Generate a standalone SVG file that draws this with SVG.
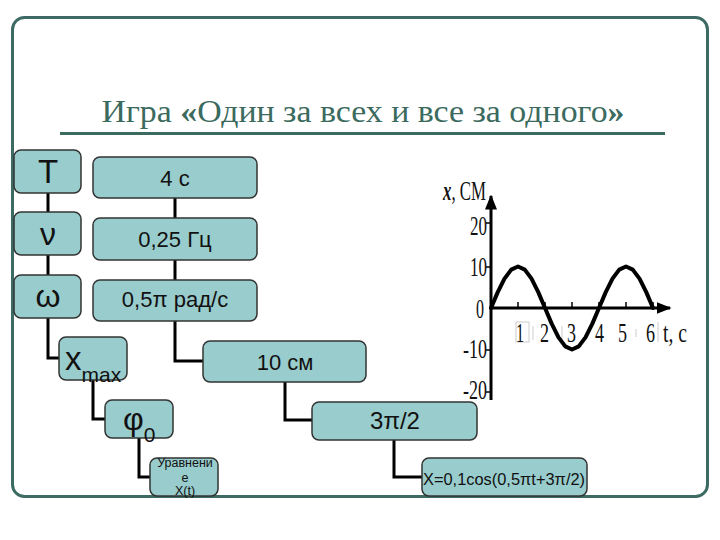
<svg xmlns="http://www.w3.org/2000/svg" width="720" height="540" viewBox="0 0 720 540">
<style>
.node{fill:#99cccc;stroke:#333333;stroke-width:1.5}
.lbl{font-family:"Liberation Sans",Arial,sans-serif;fill:#111;text-anchor:middle}
.con{fill:none;stroke:#000;stroke-width:3}
.ax{font-family:"Liberation Serif","Times New Roman",serif;font-size:27px;fill:#111}
</style>
<defs>
<marker id="arr" viewBox="0 0 10 10" refX="9" refY="5" markerWidth="5" markerHeight="5" orient="auto" markerUnits="strokeWidth">
<path d="M0,1 L10,5 L0,9 z" fill="#000"/>
</marker>
</defs>
<rect width="720" height="540" fill="#ffffff"/>
<rect x="12.5" y="17.5" width="695" height="479" rx="12" fill="none" stroke="#3d6b63" stroke-width="3"/>
<g id="title">
<text x="363" y="122" font-family="'Liberation Serif','Times New Roman',serif" font-size="32" fill="#3b6a5e" text-anchor="middle" textLength="523" lengthAdjust="spacingAndGlyphs">Игра <tspan font-weight="bold">«</tspan>Один за всех и все за одного<tspan font-weight="bold">»</tspan></text>
<line x1="60" y1="133.5" x2="665" y2="133.5" stroke="#3b6a5e" stroke-width="3"/>
</g>
<g id="connectors">
<path class="con" d="M48,193 V212 M48,255 V275 M48,318 V358 H59"/>
<path class="con" d="M175,198 V218 M175,260 V280 M175,321 V361 H203"/>
<path class="con" d="M93,380 V419 H105"/>
<path class="con" d="M285,382 V420 H312"/>
<path class="con" d="M139,438 V477 H150"/>
<path class="con" d="M394,440 V477 H422"/>
</g>
<g id="n-T"><rect class="node" x="14" y="150" width="67" height="43" rx="7"/><text class="lbl" x="48" y="183" font-size="33">T</text></g>
<g id="n-4c"><rect class="node" x="93" y="157" width="164" height="41" rx="7"/><text class="lbl" x="175" y="186" font-size="22">4 с</text></g>
<g id="n-nu"><rect class="node" x="14" y="212" width="67" height="43" rx="7"/><text class="lbl" x="48" y="245" font-size="32">ν</text></g>
<g id="n-025"><rect class="node" x="93" y="218" width="164" height="42" rx="7"/><text class="lbl" x="175" y="247" font-size="22">0,25 Гц</text></g>
<g id="n-omega"><rect class="node" x="14" y="275" width="67" height="43" rx="7"/><text class="lbl" x="48" y="307" font-size="32">ω</text></g>
<g id="n-05pi"><rect class="node" x="93" y="280" width="164" height="41" rx="7"/><text class="lbl" x="175" y="307" font-size="22">0,5π рад/с</text></g>
<g id="n-xmax"><rect class="node" x="59" y="337" width="68" height="43" rx="7"/><text class="lbl" x="65" y="370" font-size="33" style="text-anchor:start">x<tspan font-size="21" dy="12">max</tspan></text></g>
<g id="n-10cm"><rect class="node" x="203" y="341" width="163" height="41" rx="7"/><text class="lbl" x="285" y="370" font-size="22">10 см</text></g>
<g id="n-phi"><rect class="node" x="105" y="400" width="68" height="38" rx="7"/><text class="lbl" x="123" y="430" font-size="32" style="text-anchor:start">φ<tspan font-size="21" dy="12">0</tspan></text></g>
<g id="n-3pi2"><rect class="node" x="312" y="402" width="165" height="38" rx="7"/><text class="lbl" x="395" y="429" font-size="24">3π/2</text></g>
<g id="n-eq"><rect class="node" x="150" y="458" width="68" height="38" rx="7"/><text class="lbl" x="185" y="467" font-size="12.5">Уравнени</text><text class="lbl" x="185" y="482" font-size="12.5">е</text><text class="lbl" x="185" y="495" font-size="12.5">X(t)</text></g>
<g id="n-x"><rect class="node" x="422" y="458" width="165" height="38" rx="7"/><text class="lbl" x="504" y="485" font-size="16.4">X=0,1cos(0,5πt+3π/2)</text></g>
<g id="graph">
<g stroke="#cccccc" stroke-width="1" fill="none">
<rect x="516" y="322" width="13" height="20"/>
<line x1="533" y1="326" x2="533" y2="340"/>
<line x1="562" y1="326" x2="562" y2="340"/>
<line x1="636" y1="329" x2="636" y2="337"/>
<line x1="658" y1="322" x2="658" y2="342"/>
</g>
<line x1="491" y1="400" x2="491" y2="196" stroke="#000" stroke-width="3" marker-end="url(#arr)"/>
<line x1="491" y1="308" x2="670" y2="308" stroke="#000" stroke-width="3" marker-end="url(#arr)"/>
<path d="M486,223H491M486,267H491M486,350H491M486,392H491M518,302V308M545,302V308M572,302V308M599,302V308M626,302V308M653,302V308" stroke="#000" stroke-width="1.5"/>
<polyline fill="none" stroke="#000" stroke-width="4" stroke-linejoin="round" stroke-linecap="round" points="491,308 497.75,292.12 504.5,278.65 511.25,269.66 518,266.5 524.75,269.66 531.5,278.65 538.25,292.12 545,308 551.75,323.88 558.5,337.35 565.25,346.34 572,349.5 578.75,346.34 585.5,337.35 592.25,323.88 599,308 605.75,292.12 612.5,278.65 619.25,269.66 626,266.5 632.75,269.66 639.5,278.65 646.25,292.12 653,308"/>
<text class="ax" x="470" y="235" textLength="17" lengthAdjust="spacingAndGlyphs">20</text>
<text class="ax" x="470" y="276" textLength="17" lengthAdjust="spacingAndGlyphs">10</text>
<text class="ax" x="476" y="318" textLength="8" lengthAdjust="spacingAndGlyphs">0</text>
<text class="ax" x="463" y="358" textLength="24" lengthAdjust="spacingAndGlyphs">-10</text>
<text class="ax" x="463" y="399" textLength="24" lengthAdjust="spacingAndGlyphs">-20</text>
<text class="ax" x="516" y="342" textLength="8" lengthAdjust="spacingAndGlyphs">1</text>
<text class="ax" x="540" y="342" textLength="9" lengthAdjust="spacingAndGlyphs">2</text>
<text class="ax" x="567" y="342" textLength="9" lengthAdjust="spacingAndGlyphs">3</text>
<text class="ax" x="595" y="342" textLength="9" lengthAdjust="spacingAndGlyphs">4</text>
<text class="ax" x="618" y="342" textLength="9" lengthAdjust="spacingAndGlyphs">5</text>
<text class="ax" x="646" y="342" textLength="9" lengthAdjust="spacingAndGlyphs">6</text>
<text class="ax" x="663" y="342" textLength="24" lengthAdjust="spacingAndGlyphs">t, c</text>
<text class="ax" x="443" y="200" font-size="22" textLength="43" lengthAdjust="spacingAndGlyphs"><tspan font-style="italic" font-weight="bold">x</tspan>, СМ</text>
</g>
</svg>
